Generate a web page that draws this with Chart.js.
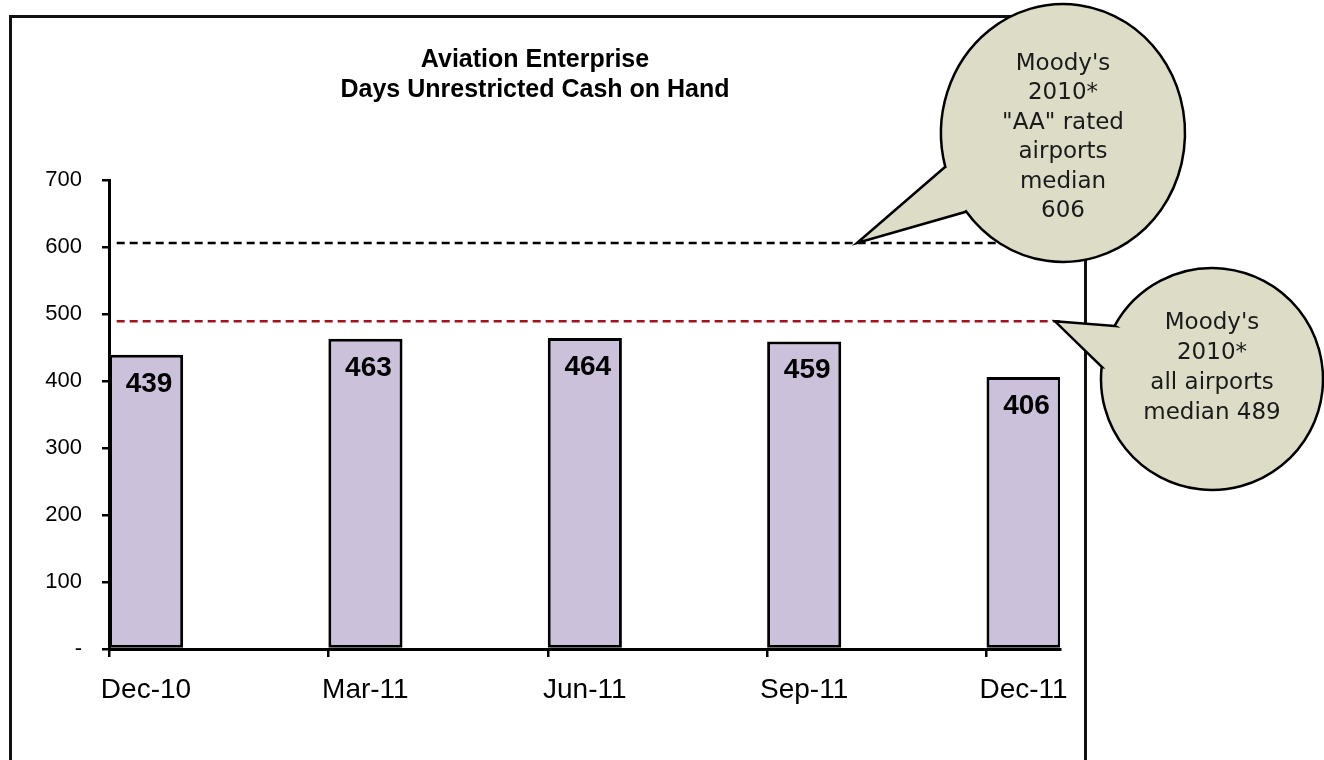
<!DOCTYPE html>
<html lang="en">
<head>
<meta charset="UTF-8">
<title>Aviation Enterprise - Days Unrestricted Cash on Hand</title>
<script src="https://cdn.jsdelivr.net/npm/chart.js@4.4.0/dist/chart.umd.min.js"></script>
<style>
    html, body {
        margin: 0;
        padding: 0;
        background: #fff;
    }
    .wrap {
        position: relative;
        width: 1324px;
        height: 760px;
    }
</style>
</head>
<body>
<div class="wrap"><canvas id="cashChart"></canvas></div>

<script>
    var quarters = ["Dec-10", "Mar-11", "Jun-11", "Sep-11", "Dec-11"];
    var cashDays = [439, 463, 464, 459, 406];
    var aaMedian = 606;   // Moody's 2010 "AA" rated airports
    var allMedian = 489;  // Moody's 2010 all airports
    var titleLines = ["Aviation Enterprise", "Days Unrestricted Cash on Hand"];
    var aaNote = ["Moody's", "2010*", "\"AA\" rated", "airports", "median", String(aaMedian)];
    var allNote = ["Moody's", "2010*", "all airports", "median " + allMedian];

    // bars sit just right of each tick mark, like the old spreadsheet chart
    var BAR_W = 0.338;

    var font = "'Liberation Sans', Arial, sans-serif";
    var noteFont = "'DejaVu Sans', Verdana, sans-serif";

    var barData = cashDays.map(function (v, i) {
        return {x: i + BAR_W / 2, y: v};
    });

    function medianLine(v) {
        return [{x: 0.035, y: v}, {x: 4.335, y: v}];
    }

    // outer chart frame
    var framePlugin = {
        id: "frame",
        beforeDraw: function (chart) {
            var ctx = chart.ctx;
            ctx.save();
            ctx.strokeStyle = "#111";
            ctx.lineWidth = 3;
            ctx.strokeRect(10.5, 16.5, 1075, 800);
            ctx.restore();
        }
    };

    // value printed inside the top of each bar
    var barLabels = {
        id: "barLabels",
        afterDatasetsDraw: function (chart) {
            var ctx = chart.ctx;
            var meta = chart.getDatasetMeta(0);
            ctx.save();
            ctx.font = "bold 28px " + font;
            ctx.fillStyle = "#000";
            ctx.textAlign = "center";
            ctx.textBaseline = "alphabetic";
            meta.data.forEach(function (bar, i) {
                ctx.fillText(cashDays[i], bar.x + 3, bar.y + 37);
            });
            ctx.restore();
        }
    };

    function drawBubble(ctx, b, tipX, tipY) {
        var tA = Math.atan2((b.a[1] - b.cy) / b.ry, (b.a[0] - b.cx) / b.rx);
        var tB = Math.atan2((b.b[1] - b.cy) / b.ry, (b.b[0] - b.cx) / b.rx);
        ctx.beginPath();
        ctx.moveTo(b.a[0], b.a[1]);
        ctx.lineTo(tipX, tipY);
        ctx.lineTo(b.b[0], b.b[1]);
        ctx.ellipse(b.cx, b.cy, b.rx, b.ry, 0, tB, tA, true);
        ctx.closePath();
        ctx.fillStyle = "#dddcc7";
        ctx.fill();
        ctx.lineWidth = 2.5;
        ctx.strokeStyle = "#000";
        ctx.stroke();

        ctx.fillStyle = "#1a1a1a";
        ctx.font = "23px " + noteFont;
        ctx.textAlign = "center";
        ctx.textBaseline = "middle";
        b.lines.forEach(function (t, k) {
            ctx.fillText(t, b.cx, b.textTop + k * b.gap);
        });
    }

    var callouts = {
        id: "callouts",
        afterDraw: function (chart) {
            var ctx = chart.ctx;
            var y = chart.scales.y;
            ctx.save();
            drawBubble(ctx, {
                cx: 1063, cy: 133, rx: 122, ry: 129,
                a: [945, 167], b: [965, 212],
                lines: aaNote, textTop: 64, gap: 29.4
            }, 857, y.getPixelForValue(aaMedian));
            drawBubble(ctx, {
                cx: 1212, cy: 379, rx: 111, ry: 111,
                a: [1115, 326], b: [1102, 367],
                lines: allNote, textTop: 323, gap: 30
            }, 1055, y.getPixelForValue(allMedian));
            ctx.restore();
        }
    };

    var ctx = document.getElementById("cashChart").getContext("2d");
    var cashChart = new Chart(ctx, {
        data: {
            datasets: [
                {
                    type: "bar",
                    label: "Days cash on hand",
                    data: barData,
                    backgroundColor: "#ccc1da",
                    borderColor: "#000",
                    borderWidth: 3,
                    borderSkipped: false,
                    categoryPercentage: 1,
                    barPercentage: BAR_W,
                    order: 2
                },
                {
                    type: "line",
                    label: "AA median",
                    data: medianLine(aaMedian),
                    borderColor: "#000",
                    borderWidth: 2.5,
                    borderDash: [8, 5],
                    pointRadius: 0,
                    order: 1
                },
                {
                    type: "line",
                    label: "All airports median",
                    data: medianLine(allMedian),
                    borderColor: "#a3121c",
                    borderWidth: 2.5,
                    borderDash: [8, 5],
                    pointRadius: 0,
                    order: 1
                }
            ]
        },
        options: {
            responsive: true,
            maintainAspectRatio: false,
            animation: false,
            layout: {
                padding: {left: 10, right: 264, top: 0, bottom: 0}
            },
            plugins: {
                legend: {display: false},
                tooltip: {enabled: false},
                title: {
                    display: true,
                    text: titleLines,
                    color: "#000",
                    font: {family: font, size: 25, weight: "bold", lineHeight: 1.2},
                    padding: {top: 45, bottom: 75}
                }
            },
            scales: {
                x: {
                    type: "linear",
                    min: 0,
                    max: 4.335,
                    offset: false,
                    afterBuildTicks: function (scale) {
                        scale.ticks = quarters.map(function (q, i) {
                            return {value: i};
                        });
                    },
                    afterFit: function (scale) {
                        scale.height = 111;
                    },
                    ticks: {
                        color: "#000",
                        font: {family: font, size: 28},
                        padding: 16,
                        labelOffset: 37,
                        maxRotation: 0,
                        callback: function (v) {
                            return quarters[v];
                        }
                    },
                    grid: {
                        offset: false,
                        drawOnChartArea: false,
                        color: "#000",
                        lineWidth: 2.5,
                        tickLength: 8
                    },
                    border: {color: "#000", width: 3}
                },
                y: {
                    min: 0,
                    max: 700,
                    afterFit: function (scale) {
                        scale.width = 99;
                    },
                    ticks: {
                        stepSize: 100,
                        color: "#000",
                        font: {family: font, size: 22},
                        padding: 20,
                        callback: function (v) {
                            return v === 0 ? "-" : v;
                        }
                    },
                    grid: {
                        drawOnChartArea: false,
                        color: "#000",
                        lineWidth: 2.5,
                        tickLength: 7
                    },
                    border: {color: "#000", width: 3}
                }
            }
        },
        plugins: [framePlugin, barLabels, callouts]
    });
</script>
</body>
</html>
